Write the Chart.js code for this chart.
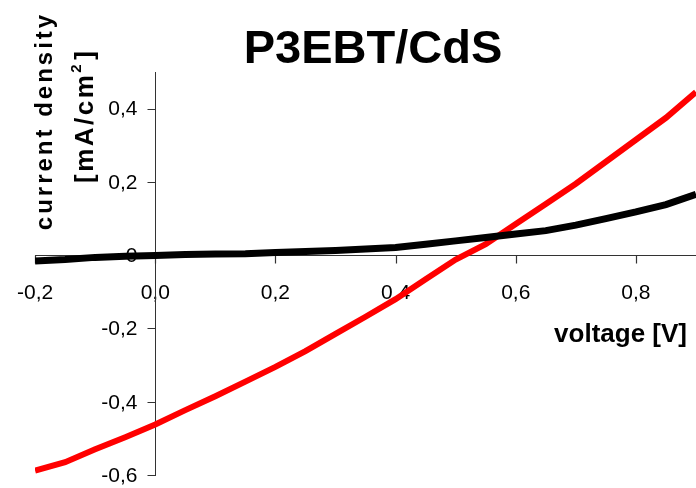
<!DOCTYPE html>
<html>
<head>
<meta charset="utf-8">
<script src="https://cdn.jsdelivr.net/npm/chart.js@4"></script>
<style>
  html, body { margin: 0; padding: 0; background: #fff; }
  #wrap { width: 696px; height: 488px; }
</style>
</head>
<body>
<div id="wrap"><canvas id="ivChart" width="696" height="488"></canvas></div>
<script>
  /* =========================
     DATA
  ========================= */
  const voltage = [-0.20, -0.15, -0.10, -0.05, 0.00, 0.05, 0.10, 0.15, 0.20, 0.25, 0.30, 0.35,
                   0.40, 0.45, 0.50, 0.55, 0.60, 0.65, 0.70, 0.75, 0.80, 0.85, 0.90];
  const lightCurrent = [-0.588, -0.565, -0.530, -0.497, -0.462, -0.423, -0.385, -0.345, -0.305, -0.262,
                        -0.215, -0.168, -0.120, -0.066, -0.012, 0.030, 0.085, 0.140, 0.195, 0.255,
                        0.315, 0.375, 0.445];
  const darkCurrent = [-0.016, -0.012, -0.006, -0.003, -0.001, 0.002, 0.003, 0.004, 0.007, 0.010,
                       0.013, 0.017, 0.021, 0.030, 0.039, 0.048, 0.058, 0.067, 0.082, 0.100,
                       0.118, 0.138, 0.166];

  const xTicks = [-0.2, 0, 0.2, 0.4, 0.6, 0.8];
  const yTicks = [-0.6, -0.4, -0.2, 0, 0.2, 0.4];

  const TITLE = "P3EBT/CdS";
  const X_TITLE = "voltage [V]";
  const Y_TITLE = ["current density", "[mA/cm", "2", "]"];

  const FONT = "'Liberation Sans', Arial, sans-serif";
  const AXIS_COLOR = "#333";

  function fmt(v, zeroLabel) {
    if (Math.abs(v) < 1e-9) return zeroLabel;
    return Number(v).toFixed(1).replace(".", ",");
  }

  const toPoints = ys => voltage.map((x, i) => ({ x, y: ys[i] }));

  /* =========================
     AXIS MARKS (tick marks + y labels)
  ========================= */
  const axisMarks = {
    id: "axisMarks",
    beforeDatasetsDraw(chart) {
      const c = chart.ctx;
      const xs = chart.scales.x;
      const ys = chart.scales.y;
      const x0 = Math.round(xs.getPixelForValue(0)) + 0.5;
      const y0 = Math.round(ys.getPixelForValue(0)) + 0.5;

      c.save();
      c.strokeStyle = AXIS_COLOR;
      c.lineWidth = 1.2;
      c.beginPath();
      xs.ticks.forEach(t => {
        const px = Math.round(xs.getPixelForValue(t.value)) + 0.5;
        c.moveTo(px, y0);
        c.lineTo(px, y0 + 8);
      });
      ys.ticks.forEach(t => {
        const py = Math.round(ys.getPixelForValue(t.value)) + 0.5;
        c.moveTo(x0, py);
        c.lineTo(x0 - 8, py);
      });
      c.stroke();

      c.fillStyle = "#000";
      c.font = `21px ${FONT}`;
      c.textAlign = "right";
      c.textBaseline = "middle";
      ys.ticks.forEach(t => {
        c.fillText(fmt(t.value, "0"), x0 - 18, ys.getPixelForValue(t.value) + 1);
      });
      c.restore();
    }
  };

  /* =========================
     TITLES (drawn as text)
  ========================= */
  const titles = {
    id: "titles",
    afterDraw(chart) {
      const c = chart.ctx;
      c.save();
      c.fillStyle = "#000";

      c.font = `bold 47px ${FONT}`;
      c.textAlign = "center";
      c.textBaseline = "alphabetic";
      c.fillText(TITLE, 373, 63);

      c.font = `bold 26px ${FONT}`;
      c.textAlign = "right";
      c.fillText(X_TITLE, 687, 342);

      // rotated y title, two lines
      c.save();
      c.translate(52, 121);
      c.rotate(-Math.PI / 2);
      c.font = `bold 24px ${FONT}`;
      c.letterSpacing = "3px";
      c.textAlign = "center";
      c.fillText(Y_TITLE[0], 0, 0);
      c.restore();

      c.save();
      c.translate(93, 183);
      c.rotate(-Math.PI / 2);
      c.font = `bold 26px ${FONT}`;
      c.letterSpacing = "2.5px";
      c.textAlign = "left";
      c.fillText(Y_TITLE[1], 0, 0);
      let w = c.measureText(Y_TITLE[1]).width;
      c.font = `bold 15px ${FONT}`;
      c.fillText(Y_TITLE[2], w, -12);
      w += c.measureText(Y_TITLE[2]).width;
      c.font = `bold 26px ${FONT}`;
      c.fillText(Y_TITLE[3], w + 2, 0);
      c.restore();

      c.restore();
    }
  };

  /* =========================
     CHART
  ========================= */
  const ctx = document.getElementById("ivChart").getContext("2d");

  new Chart(ctx, {
    type: "line",
    data: {
      datasets: [
        {
          label: "dark",
          data: toPoints(darkCurrent),
          borderColor: "#000000",
          borderWidth: 7,
          pointRadius: 0,
          tension: 0
        },
        {
          label: "light",
          data: toPoints(lightCurrent),
          borderColor: "#ff0000",
          borderWidth: 6,
          pointRadius: 0,
          tension: 0
        }
      ]
    },
    options: {
      responsive: false,
      animation: false,
      layout: { padding: { left: 32, right: 0, top: 72, bottom: 13 } },
      plugins: {
        legend: { display: false },
        tooltip: { enabled: false }
      },
      scales: {
        x: {
          type: "linear",
          min: -0.2,
          max: 0.9,
          position: { y: 0 },
          afterFit: s => { s.height = 0; },
          afterBuildTicks: s => { s.ticks = xTicks.map(v => ({ value: v })); },
          grid: { display: false },
          border: { display: true, color: AXIS_COLOR, width: 1 },
          ticks: {
            padding: 17,
            color: "#000",
            font: { family: FONT, size: 21 },
            callback: v => fmt(v, "0,0")
          }
        },
        y: {
          type: "linear",
          min: -0.6,
          max: 0.5,
          position: { x: 0 },
          afterFit: s => { s.width = 0; },
          afterBuildTicks: s => { s.ticks = yTicks.map(v => ({ value: v })); },
          grid: { display: false },
          border: { display: true, color: AXIS_COLOR, width: 1 },
          ticks: { display: false }
        }
      }
    },
    plugins: [axisMarks, titles]
  });
</script>
</body>
</html>
